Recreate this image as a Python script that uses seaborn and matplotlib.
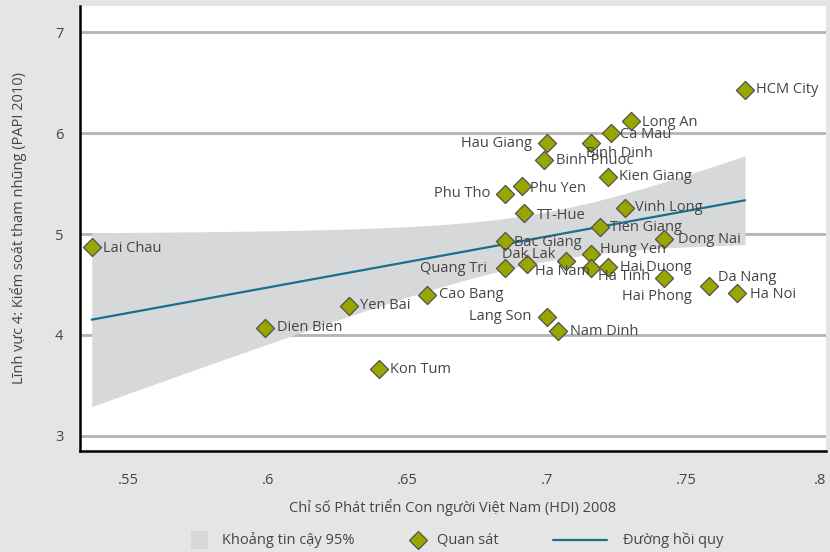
import matplotlib
matplotlib.use("Agg")
import matplotlib.pyplot as plt
from matplotlib.lines import Line2D
from matplotlib.patches import Rectangle
import numpy as np
import pandas as pd
import seaborn as sns

# Provinces: HDI 2008 vs PAPI 2010 dimension 4 (control of corruption)
provinces = [
    "HCM City", "Long An", "Ca Mau", "Binh Dinh", "Hau Giang", "Binh Phuoc",
    "Kien Giang", "Phu Tho", "Phu Yen", "TT-Hue", "Vinh Long", "Tien Giang",
    "Dong Nai", "Bac Giang", "Hung Yen", "Dak Lak", "Ha Nam", "Quang Tri",
    "Ha Tinh", "Hai Duong", "Hai Phong", "Da Nang", "Ha Noi", "Cao Bang",
    "Lang Son", "Nam Dinh", "Lai Chau", "Yen Bai", "Dien Bien", "Kon Tum",
]
hdi = [
    0.771, 0.730, 0.723, 0.716, 0.700, 0.699,
    0.722, 0.685, 0.691, 0.692, 0.728, 0.719,
    0.742, 0.685, 0.716, 0.707, 0.693, 0.685,
    0.716, 0.722, 0.742, 0.758, 0.768, 0.657,
    0.700, 0.704, 0.537, 0.629, 0.599, 0.640,
]
papi = [
    6.43, 6.12, 6.00, 5.90, 5.90, 5.73,
    5.57, 5.40, 5.48, 5.21, 5.26, 5.07,
    4.95, 4.93, 4.80, 4.73, 4.70, 4.66,
    4.66, 4.67, 4.56, 4.49, 4.42, 4.40,
    4.18, 4.04, 4.87, 4.29, 4.07, 3.66,
]

x_ticks = [0.55, 0.60, 0.65, 0.70, 0.75, 0.80]
x_ticklabels = [".55", ".6", ".65", ".7", ".75", ".8"]
y_ticks = [3, 4, 5, 6, 7]

x_title = "Chỉ số Phát triển Con người Việt Nam (HDI) 2008"
y_title = "Lĩnh vực 4: Kiểm soát tham nhũng (PAPI 2010)"
legend_labels = ["Khoảng tin cậy 95%", "Quan sát", "Đường hồi quy"]

# label placement around each marker: (dx px, dy px, horizontal alignment)
label_pos = {
    "HCM City": (11, 0, "left"), "Long An": (11, -1, "left"),
    "Ca Mau": (9, -1, "left"), "Binh Dinh": (-5, -10, "left"),
    "Hau Giang": (-15, 0, "right"), "Binh Phuoc": (12, 0, "left"),
    "Kien Giang": (11, 0, "left"), "Phu Tho": (-15, 0, "right"),
    "Phu Yen": (8, -3, "left"), "TT-Hue": (12, -3, "left"),
    "Vinh Long": (10, 0, "left"), "Tien Giang": (10, -1, "left"),
    "Dong Nai": (14, 0, "left"), "Bac Giang": (9, -1, "left"),
    "Hung Yen": (9, 5, "left"), "Dak Lak": (-11, 7, "right"),
    "Ha Nam": (8, -7, "left"), "Quang Tri": (-18, 0, "right"),
    "Ha Tinh": (7, -8, "left"), "Hai Duong": (12, 0, "left"),
    "Hai Phong": (-7, -18, "center"), "Da Nang": (9, 8, "left"),
    "Ha Noi": (13, -2, "left"), "Cao Bang": (12, 0, "left"),
    "Lang Son": (-15, 0, "right"), "Nam Dinh": (12, -1, "left"),
    "Lai Chau": (11, -1, "left"), "Yen Bai": (11, 0, "left"),
    "Dien Bien": (12, 0, "left"), "Kon Tum": (11, 0, "left"),
}

df = pd.DataFrame({"province": provinces, "hdi": hdi, "papi": papi})

BG = "#e4e6e5"
BAND = "#d7d8da"
OLIVE = "#9aa600"
EDGE = "#505050"
TEAL = "#1c6f8a"
TXT = "#454545"
FS = 10.5

sns.set_theme(style="white")
plt.rcParams["font.family"] = ["Open Sans", "DejaVu Sans"]

fig = plt.figure(figsize=(8.3, 5.52), dpi=100, facecolor=BG)
ax = fig.add_axes([80 / 830, 1 - 451 / 552, 746 / 830, 445 / 552])
ax.set_facecolor("white")

# grid lines at integer levels
for yv in y_ticks:
    ax.axhline(yv, color="#b3b3b3", lw=2, zorder=0)

# 95% confidence band of the OLS fit (classical t-interval for the mean)
xa = df["hdi"].to_numpy()
ya = df["papi"].to_numpy()
slope, intercept = np.polyfit(xa, ya, 1)
n = len(xa)
resid_sd = np.sqrt(np.sum((ya - (intercept + slope * xa)) ** 2) / (n - 2))
xg = np.linspace(xa.min(), xa.max(), 200)
se = resid_sd * np.sqrt(1 / n + (xg - xa.mean()) ** 2 / np.sum((xa - xa.mean()) ** 2))
t_crit = 2.048  # t(0.975, df=28)
fit = intercept + slope * xg
ax.fill_between(xg, fit - t_crit * se, fit + t_crit * se, color=BAND,
                lw=0, zorder=1)

sns.regplot(
    data=df, x="hdi", y="papi", ax=ax, scatter=False, ci=None,
    line_kws={"color": TEAL, "lw": 1.6, "zorder": 3},
)

sns.scatterplot(
    data=df, x="hdi", y="papi", ax=ax, marker="D", s=85,
    color=OLIVE, edgecolor=EDGE, linewidth=0.9, zorder=4,
)

for name, xv, yv in zip(provinces, hdi, papi):
    dx, dy, ha = label_pos[name]
    ax.annotate(name, (xv, yv), xytext=(dx, dy), textcoords="offset pixels",
                ha=ha, va="center", fontsize=FS, color=TXT, zorder=5)

ax.set_xlim(0.5328, 0.800)
ax.set_ylim(2.85, 7.26)
ax.set_xticks(x_ticks)
ax.set_xticklabels(x_ticklabels)
ax.get_xticklabels()[-1].set_horizontalalignment("right")
ax.set_yticks(y_ticks)
ax.tick_params(axis="x", direction="in", length=8, width=1.6, color="black",
               pad=16, labelsize=FS, labelcolor=TXT)
ax.tick_params(axis="y", length=0, pad=12, labelsize=FS, labelcolor=TXT)
for side in ("top", "right"):
    ax.spines[side].set_visible(False)
for side in ("left", "bottom"):
    ax.spines[side].set_color("black")
    ax.spines[side].set_linewidth(1.8)

ax.set_xlabel(x_title, fontsize=FS, color=TXT, labelpad=8)
ax.set_ylabel(y_title, fontsize=FS, color=TXT, labelpad=20)

# legend row below the axis title
W, H = 830, 552
ly = 1 - 540 / H
fig.patches.append(Rectangle((191 / W, ly - 9 / H), 17 / W, 18 / H,
                             transform=fig.transFigure, facecolor=BAND,
                             edgecolor="none"))
fig.text(222 / W, ly, legend_labels[0], ha="left", va="center",
         fontsize=FS, color=TXT)
fig.lines.append(Line2D([417.5 / W], [ly], transform=fig.transFigure,
                        marker="D", ls="none", markersize=9.5,
                        markerfacecolor=OLIVE, markeredgecolor=EDGE,
                        markeredgewidth=0.9))
fig.text(437 / W, ly, legend_labels[1], ha="left", va="center",
         fontsize=FS, color=TXT)
fig.lines.append(Line2D([553 / W, 607 / W], [ly, ly], transform=fig.transFigure,
                        color=TEAL, lw=1.6))
fig.text(623 / W, ly, legend_labels[2], ha="left", va="center",
         fontsize=FS, color=TXT)

fig.savefig("out.png", dpi=100, facecolor=BG)
